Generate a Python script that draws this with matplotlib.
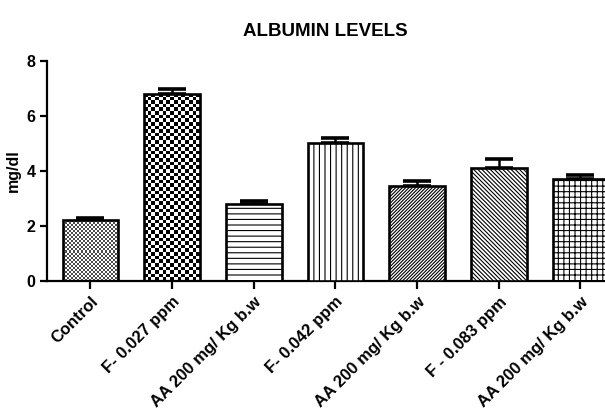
import numpy as np
import matplotlib
matplotlib.use("Agg")
import matplotlib.pyplot as plt

plt.rcParams["font.family"] = ["Liberation Sans", "DejaVu Sans"]
plt.rcParams["font.weight"] = "bold"
plt.rcParams["hatch.linewidth"] = 0.8

# --------------------------------------------------
# Data
# --------------------------------------------------
groups = [
    "Control",
    "F- 0.027 ppm",
    "AA 200 mg/ Kg b.w",
    "F- 0.042 ppm",
    "AA 200 mg/ Kg b.w",
    "F - 0.083 ppm",
    "AA 200 mg/ Kg b.w",
]
means = [2.2, 6.8, 2.8, 5.0, 3.45, 4.1, 3.72]
sem = [0.1, 0.18, 0.1, 0.2, 0.2, 0.33, 0.12]

# fill style per bar: ("checker", cell px, dark tone) or a hatch string
fills = [("checker", 2.0, 0.3), ("checker", 3.6, 0.0), "---", "|||",
         "/" * 10, "\\" * 8, "+++"]

# --------------------------------------------------
# Figure
# --------------------------------------------------
fig = plt.figure(figsize=(6.05, 4.12), dpi=100)
ax = fig.add_axes([0.078, 0.318, 0.93, 0.534])

x = np.arange(len(groups))
width = 0.68
bars = ax.bar(x, means, width, color="white", edgecolor="black",
              linewidth=1.9, zorder=3)
ax.errorbar(x, means, yerr=[np.zeros(len(sem)), sem], fmt="none",
            ecolor="black", elinewidth=1.8, capsize=10, capthick=2.6,
            zorder=2)

ax.set_xlim(-0.53, 6.36)
ax.set_ylim(0, 8)
fig.canvas.draw()

for bar, fill in zip(bars, fills):
    if isinstance(fill, tuple):
        # checkerboard texture clipped to the bar outline
        _, cell, dark = fill
        bar.set_facecolor("none")
        x0, y0 = bar.get_x(), bar.get_y()
        w, h = bar.get_width(), bar.get_height()
        p0 = ax.transData.transform((x0, y0))
        p1 = ax.transData.transform((x0 + w, y0 + h))
        nx = max(1, int(round((p1[0] - p0[0]) / cell)))
        ny = max(1, int(round((p1[1] - p0[1]) / cell)))
        checker = (np.add.outer(np.arange(ny), np.arange(nx)) % 2).astype(float)
        checker = dark + (1 - dark) * checker
        img = ax.imshow(checker, cmap="gray", extent=(x0, x0 + w, y0, y0 + h),
                        aspect="auto", interpolation="nearest", zorder=2.5,
                        vmin=0, vmax=1)
        img.set_clip_path(bar)
    else:
        bar.set_hatch(fill)

ax.set_xlim(-0.53, 6.36)
ax.set_ylim(0, 8)

ax.spines["top"].set_visible(False)
ax.spines["right"].set_visible(False)
ax.spines["left"].set_linewidth(1.6)
ax.spines["bottom"].set_linewidth(1.6)

ax.set_yticks([0, 2, 4, 6, 8])
ax.tick_params(axis="y", direction="out", length=5, width=1.6, labelsize=11.5)
ax.tick_params(axis="x", direction="out", length=6, width=1.6, labelsize=12)
ax.set_xticks(x)
ax.set_xticklabels(groups, rotation=45, ha="right", rotation_mode="anchor",
                   fontweight="bold")
for lbl in ax.get_yticklabels():
    lbl.set_fontweight("bold")

ax.set_ylabel("mg/dl", fontsize=11.5, fontweight="bold", labelpad=4)
fig.suptitle("ALBUMIN LEVELS", x=0.538, y=0.945, fontsize=13.5,
             fontweight="bold")

fig.savefig("out.png", dpi=100)
